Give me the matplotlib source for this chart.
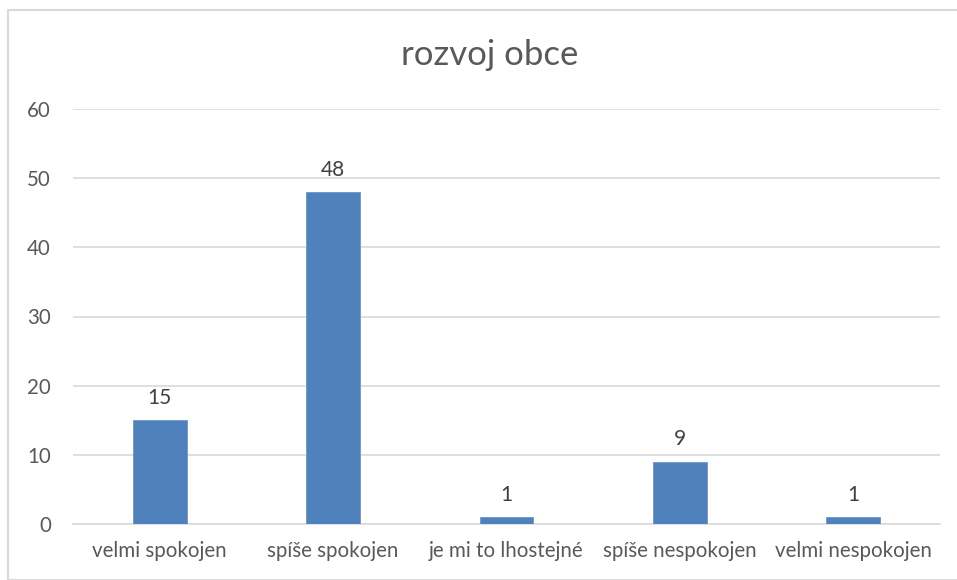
import matplotlib
matplotlib.use("Agg")
import matplotlib.pyplot as plt
from matplotlib.patches import Rectangle

# data
categories = ["velmi spokojen", "spíše spokojen", "je mi to lhostejné",
              "spíše nespokojen", "velmi nespokojen"]
values = [15, 48, 1, 9, 1]
title = "rozvoj obce"

text_color = "#595959"
bar_color = "#4F81BD"
grid_color = "#D9D9D9"

plt.rcParams["font.family"] = ["Lato", "DejaVu Sans"]

fig = plt.figure(figsize=(9.57, 5.8), dpi=100)
ax = fig.add_axes([73 / 957, 56 / 580, 867 / 957, 415 / 580])

x = range(len(categories))
bars = ax.bar(x, values, width=0.31, color=bar_color, edgecolor="#6F96C8",
              linewidth=0.6, zorder=3)

for xi, v in zip(x, values):
    ax.annotate(str(v), (xi, v), xytext=(0, 9), textcoords="offset points",
                ha="center", va="bottom", fontsize=15, color="#404040")

ax.set_xlim(-0.5, len(categories) - 0.5)
ax.set_ylim(0, 60)
ax.set_yticks(range(0, 61, 10))
ax.set_xticks(list(x))
ax.set_xticklabels(categories)
ax.yaxis.grid(True, color=grid_color, linewidth=1.2, zorder=0)
ax.set_axisbelow(True)

for s in ["top", "right", "left"]:
    ax.spines[s].set_visible(False)
ax.spines["bottom"].set_color(grid_color)
ax.spines["bottom"].set_linewidth(1.2)

ax.tick_params(axis="both", length=0, labelsize=14.8, colors=text_color)
ax.tick_params(axis="y", pad=16)
ax.tick_params(axis="x", pad=12)

fig.text(490 / 957, 1 - 55 / 580, title, ha="center", va="center",
         fontsize=25, color=text_color)

# outer chart border
fig.patches.append(Rectangle((8 / 957, 0), 1, 1 - 10 / 580, transform=fig.transFigure,
                             fill=False, edgecolor="#D9D9D9", linewidth=1.5))

fig.savefig("out.png", dpi=100)
